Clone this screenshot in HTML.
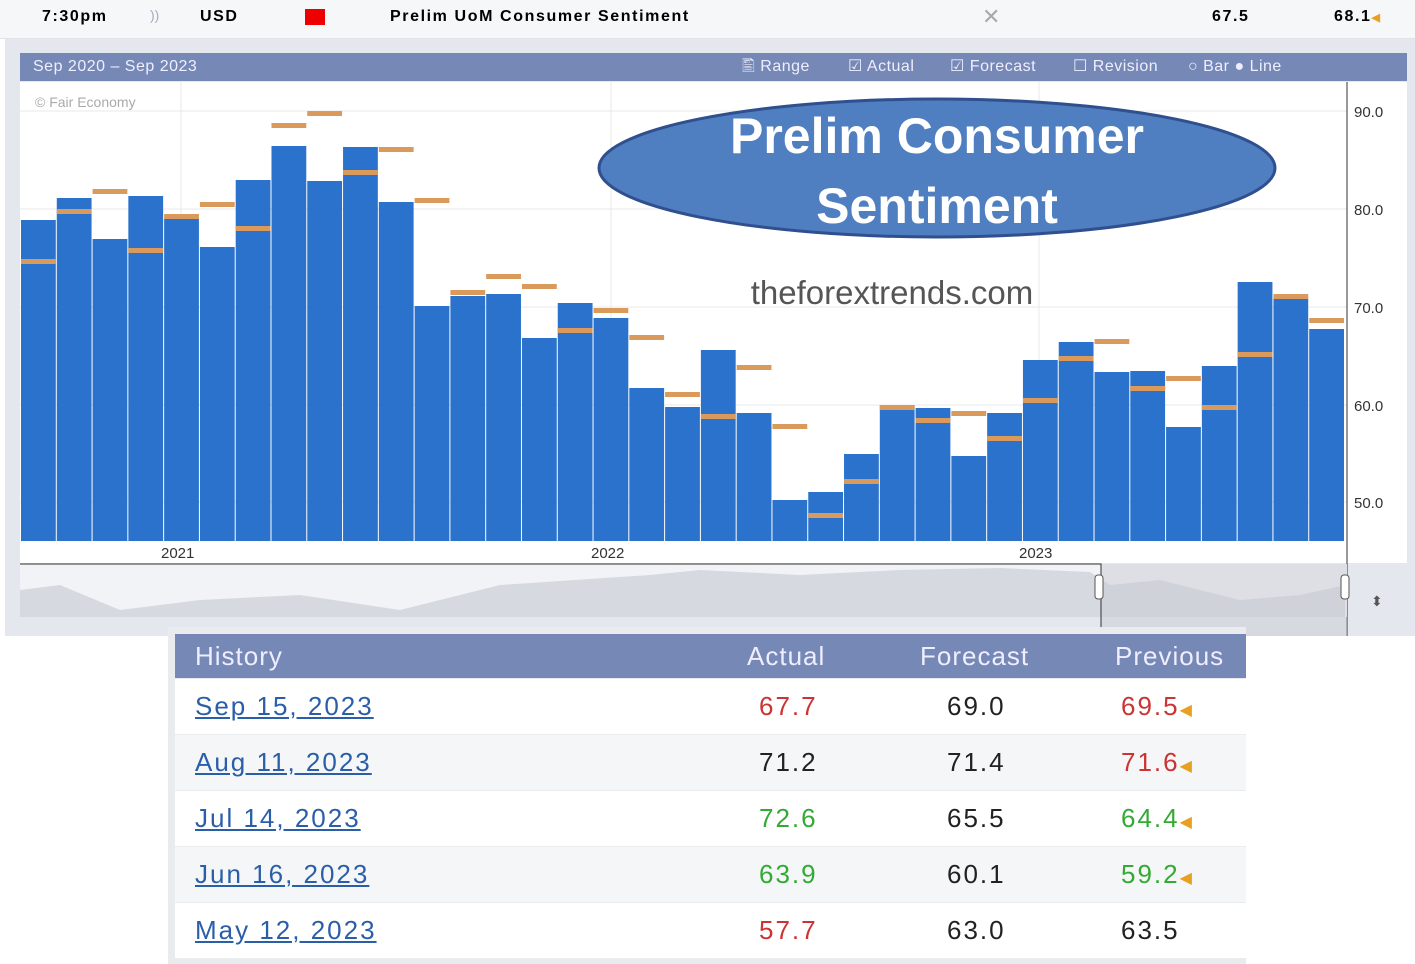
<!DOCTYPE html>
<html><head><meta charset="utf-8"><style>
body{margin:0;width:1415px;height:964px;overflow:hidden;background:#fff;font-family:"Liberation Sans",sans-serif;position:relative}
.a{position:absolute}
.tb{font-weight:bold;font-size:16px;letter-spacing:1.6px}
</style></head><body>
<div class="a" style="left:0;top:0;width:1415px;height:38px;background:#f6f7f9;border-bottom:1px solid #e0e3e8"></div>
<div class="a tb" style="left:42px;top:8px">7:30pm</div>
<div class="a" style="left:150px;top:7px;font-size:14px;color:#aab">))</div>
<div class="a tb" style="left:200px;top:8px">USD</div>
<div class="a" style="left:305px;top:9px;width:20px;height:16px;background:#e00"></div>
<div class="a tb" style="left:390px;top:8px">Prelim UoM Consumer Sentiment</div>
<div class="a" style="left:982px;top:4px;font-size:22px;color:#aaa">✕</div>
<div class="a tb" style="left:1212px;top:8px">67.5</div>
<div class="a tb" style="left:1334px;top:8px">68.1<span style="color:#e9a020;font-size:11px">◀</span></div>
<div class="a" style="left:5px;top:39px;width:1410px;height:597px;background:#e4e7ed"></div>
<div class="a" style="left:20px;top:53px;width:1387px;height:28px;background:#7688b5;color:#eef;font-size:16px;line-height:28px;letter-spacing:0.5px">
<span style="position:absolute;left:13px">Sep 2020 – Sep 2023</span>
<span style="position:absolute;left:722px">🖺 Range</span>
<span style="position:absolute;left:828px">☑ Actual</span>
<span style="position:absolute;left:930px">☑ Forecast</span>
<span style="position:absolute;left:1053px">☐ Revision</span>
<span style="position:absolute;left:1168px">○ Bar ● Line</span>
</div>
<div class="a" style="left:20px;top:82px;width:1387px;height:481px;background:#fff"></div>
<svg class="a" style="left:0;top:0" width="1415" height="640">
<g stroke="#e8e8e8"><line x1="20" x2="1347" y1="111" y2="111"/><line x1="20" x2="1347" y1="209" y2="209"/><line x1="20" x2="1347" y1="307" y2="307"/><line x1="20" x2="1347" y1="405" y2="405"/><line x1="20" x2="1347" y1="502" y2="502"/><line x1="181" x2="181" y1="82" y2="541"/><line x1="611" x2="611" y1="82" y2="541"/><line x1="1039" x2="1039" y1="82" y2="541"/></g>
<line x1="1347" x2="1347" y1="82" y2="636" stroke="#333"/>
<g id="bars" fill="#2a72cc"></g>
<g id="fc" fill="#d99a5c"></g>
<g font-size="15" fill="#333"><text x="1354" y="117">90.0</text><text x="1354" y="215">80.0</text><text x="1354" y="313">70.0</text><text x="1354" y="411">60.0</text><text x="1354" y="508">50.0</text>
<text x="161" y="558">2021</text><text x="591" y="558">2022</text><text x="1019" y="558">2023</text></g>
<text x="35" y="107" font-size="14" fill="#aaa">© Fair Economy</text>
<rect x="20" y="564" width="1327" height="53" fill="#f2f3f6"/>
<path d="M20 590 L60 585 L120 610 L200 600 L300 595 L400 610 L500 585 L650 575 L700 570 L800 575 L900 570 L1000 568 L1090 572 L1110 585 L1160 580 L1240 600 L1300 595 L1345 585 L1345 617 L20 617Z" fill="#d6d9e0"/>
<rect x="1101" y="564" width="246" height="72" fill="#c9ccd3" opacity=".5"/>
<path d="M20 564 H1101 V636" fill="none" stroke="#333"/>
<rect x="1095" y="575" width="8" height="24" rx="3" fill="#fff" stroke="#555"/>
<rect x="1341" y="575" width="8" height="24" rx="3" fill="#fff" stroke="#555"/>
<text x="1371" y="606" font-size="14" fill="#555">⬍</text>
<ellipse cx="937" cy="168" rx="338" ry="69" fill="#4f7fc0" stroke="#2f4f8f" stroke-width="3"/>
<text x="937" y="153" text-anchor="middle" font-size="50" font-weight="bold" fill="#fff">Prelim Consumer</text>
<text x="937" y="223" text-anchor="middle" font-size="50" font-weight="bold" fill="#fff">Sentiment</text>
<text x="892" y="304" text-anchor="middle" font-size="33" fill="#555">theforextrends.com</text>
</svg>
<div class="a" style="left:168px;top:627px;width:1078px;height:337px;background:#e9ebef"></div>
<div class="a" style="left:175px;top:634px;width:1071px;height:44px;background:#7688b5;color:#eef;font-size:26px;line-height:44px;letter-spacing:1px">
<span style="position:absolute;left:20px">History</span><span style="position:absolute;left:572px">Actual</span><span style="position:absolute;left:745px">Forecast</span><span style="position:absolute;left:940px">Previous</span></div>
<div id="rows"></div>
<script>
var tops=[220,198,239,196,219,247,180,146,181,147,202,306,296,294,338,303,318,388,407,350,413,500,492,454,405,408,456,413,360,342,372,371,427,366,282,298,329];
var fc=[261,211,191,250,216,204,228,125,113,172,149,200,292,276,286,330,310,337,394,416,367,426,515,481,407,420,413,438,400,358,341,388,378,407,354,296,320];
var w=(1345-21)/37,b='',f='';
for(var i=0;i<37;i++){var x=21+i*w;b+='<rect x="'+x+'" y="'+tops[i]+'" width="'+(w-1)+'" height="'+(541-tops[i])+'"/>';f+='<rect x="'+x+'" y="'+(fc[i]-2)+'" width="'+(w-1)+'" height="5"/>';}
document.getElementById('bars').innerHTML=b;document.getElementById('fc').innerHTML=f;
var R=[["Sep 15, 2023","67.7","#c33","69.0","69.5","#c33"],["Aug 11, 2023","71.2","#222","71.4","71.6","#c33"],["Jul 14, 2023","72.6","#3a3","65.5","64.4","#3a3"],["Jun 16, 2023","63.9","#3a3","60.1","59.2","#3a3"],["May 12, 2023","57.7","#c33","63.0","63.5","#222"]];
var h='';R.forEach(function(r,i){var y=679+i*56;h+='<div class="a" style="left:175px;top:'+y+'px;width:1071px;height:55px;background:'+(i%2?'#f5f6f8':'#fff')+';font-size:26px;line-height:55px;letter-spacing:2px">'+
'<span style="position:absolute;left:20px;color:#2a5ea8;text-decoration:underline">'+r[0]+'</span><span style="position:absolute;left:584px;color:'+r[2]+'">'+r[1]+'</span><span style="position:absolute;left:772px;color:#222">'+r[3]+'</span><span style="position:absolute;left:946px;color:'+r[5]+'">'+r[4]+(r[5]!='#222'?'<span style="color:#e9a020;font-size:16px">◀</span>':'')+'</span></div>';});
document.getElementById('rows').innerHTML=h;
</script>
</body></html>
